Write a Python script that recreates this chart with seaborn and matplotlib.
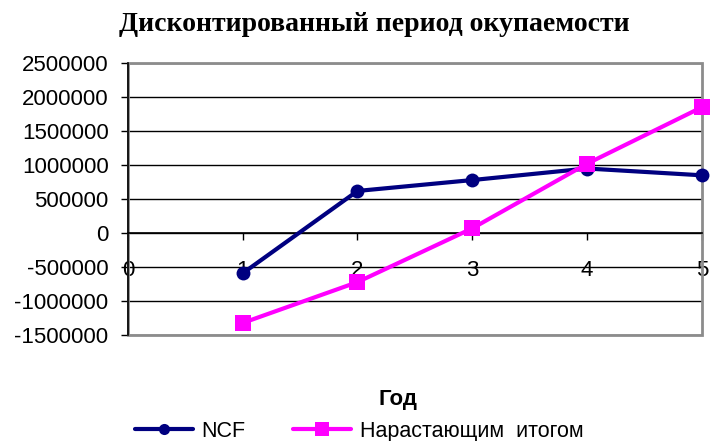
import numpy as np
import pandas as pd
import matplotlib
matplotlib.use('Agg')
import matplotlib.pyplot as plt
import seaborn as sns
from matplotlib.patches import Rectangle

# data
years = [1, 2, 3, 4, 5]
ncf = [-590000, 620000, 780000, 950000, 850000]
cumulative = [-1320000, -720000, 70000, 1020000, 1850000]
y_ticks = [-1500000, -1000000, -500000, 0, 500000, 1000000, 1500000, 2000000, 2500000]
x_ticks = [0, 1, 2, 3, 4, 5]

sns.set_style('white')
plt.rcParams['font.family'] = ['Liberation Sans', 'DejaVu Sans']
plt.rcParams['text.color'] = 'black'
plt.rcParams['xtick.color'] = 'black'
plt.rcParams['ytick.color'] = 'black'
plt.rcParams['axes.labelcolor'] = 'black'

fig = plt.figure(figsize=(7.11, 4.41), dpi=100)
ax = fig.add_axes([0.18, 0.24, 0.807, 0.617])

df = pd.DataFrame({'Год': years, 'NCF': ncf, 'Нарастающим итогом': cumulative})

sns.lineplot(data=df, x='Год', y='NCF', ax=ax, color='#000080', linewidth=3,
             marker='o', markersize=10, markeredgewidth=0, clip_on=False,
             label='NCF', zorder=5)
sns.lineplot(data=df, x='Год', y='Нарастающим итогом', ax=ax, color='#FF00FF', linewidth=3,
             marker='s', markersize=12, markeredgewidth=0, clip_on=False,
             label='Нарастающим  итогом', zorder=6)

ax.set_xlim(0, 5)
ax.set_ylim(-1500000, 2500000)

# grid lines
for v in y_ticks:
    ax.axhline(v, color='black', linewidth=1, zorder=1)

# gray border of plot area
ax.add_patch(Rectangle((0, 0), 1, 1, transform=ax.transAxes, fill=False,
                       edgecolor='#8c8c8c', linewidth=2, zorder=2, clip_on=False))

for s in ['top', 'right']:
    ax.spines[s].set_visible(False)
ax.spines['left'].set_color('black')
ax.spines['left'].set_linewidth(1.2)
ax.spines['bottom'].set_position(('data', 0))
ax.spines['bottom'].set_color('black')
ax.spines['bottom'].set_linewidth(1.2)

ax.set_yticks(y_ticks)
ax.set_yticklabels([str(v) for v in y_ticks])
ax.set_xticks(x_ticks)
ax.set_xticklabels([str(v) for v in x_ticks])
ax.tick_params(axis='y', direction='out', length=5, width=1, left=True, pad=9, labelsize=16)
ax.tick_params(axis='x', direction='out', length=5, width=1, bottom=True, pad=14, labelsize=16)

ax.set_ylabel('')
ax.set_xlabel('')
fig.text(0.56, 0.093, 'Год', ha='center', va='center', fontsize=16, fontweight='bold')
fig.text(0.527, 0.945, 'Дисконтированный период окупаемости', ha='center', va='center',
         fontsize=20, fontweight='bold', family=['Liberation Serif', 'DejaVu Serif'])

ax.get_legend().remove()
h, l = ax.get_legend_handles_labels()
fig.legend(h, l, loc='center', bbox_to_anchor=(0.505, 0.022), ncol=2, frameon=False,
           fontsize=15.5, handlelength=2.7, columnspacing=2.2, handletextpad=0.4,
           markerscale=0.8)

fig.savefig('out.png', dpi=100)
